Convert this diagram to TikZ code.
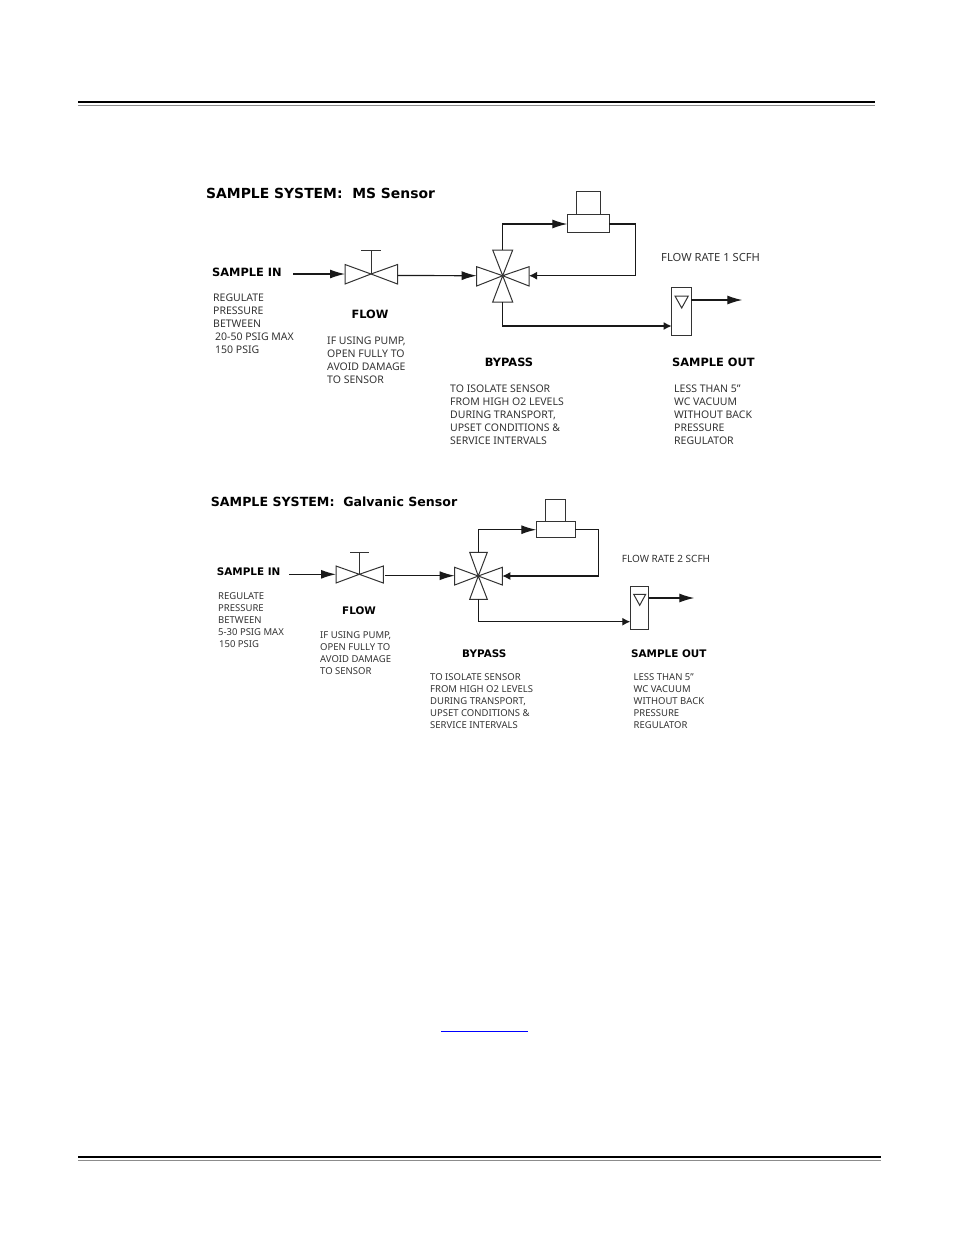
\documentclass[tikz,border=0pt]{standalone}
\usepackage{fontspec}
\setmainfont{Noto Sans}
\newfontfamily\headfont{DejaVu Sans}
\usetikzlibrary{arrows.meta}
\tikzset{
  pipe/.style={line width=1.2pt, draw=black!90},
  bigtip/.style={-{Latex[length=15pt,width=9pt]}},
  smalltip/.style={-{Latex[length=8pt,width=8pt]}},
  part/.style={draw=black!80, line width=1pt, fill=white, inner sep=0pt, outer sep=0pt},
  valve/.style={draw=black!80, line width=1pt, line join=miter},
  title/.style={font=\headfont\bfseries\fontsize{13.9}{17}\selectfont, inner sep=0pt, anchor=west},
  head/.style={font=\headfont\bfseries\fontsize{11.4}{13}\selectfont, inner sep=0pt},
  headb/.style={font=\headfont\bfseries\fontsize{10.4}{12}\selectfont, inner sep=0pt},
  note/.style={font=\fontsize{10.5}{13.1}\selectfont, text=black!80, align=left, inner sep=0pt, anchor=north west},
  noteb/.style={font=\fontsize{9.5}{11.9}\selectfont, text=black!80, align=left, inner sep=0pt, anchor=north west},
  rule/.style={line width=2.2pt, black},
  thinrule/.style={line width=1pt, black!45}
}
\begin{document}
\begin{tikzpicture}[x=1pt, y=-1pt, >=stealth]
\useasboundingbox (0,0) rectangle (954,1235);
% page rules
\coordinate (topl) at (78,102);
\coordinate (topr) at (875,102);
\coordinate (topla) at (78,105);
\coordinate (topra) at (875,105);
\coordinate (botl) at (78,1157);
\coordinate (botr) at (881,1157);
\coordinate (botla) at (78,1160);
\coordinate (botra) at (881,1160);
\draw[rule] (topl) -- (topr);
\draw[thinrule] (topla) -- (topra);
\draw[rule] (botl) -- (botr);
\draw[thinrule] (botla) -- (botra);
\coordinate (markl) at (441,1031);
\coordinate (markr) at (528,1031);
\draw[blue, line width=1pt] (markl) -- (markr);

% MS sensor
\node[title] (titlea) at (206,193) {SAMPLE SYSTEM:\ \ MS Sensor};
\node[head, anchor=west] (ina) at (212,272) {SAMPLE IN};
\node[note] (regulatea) at (213,293.5) {REGULATE\\PRESSURE\\BETWEEN\\\hspace*{2pt}20-50 PSIG MAX\\\hspace*{2pt}150 PSIG};
\node[head] (flowa) at (370,314) {FLOW};
\node[note] (pumpa) at (327,336.5) {IF USING PUMP,\\OPEN FULLY TO\\AVOID DAMAGE\\TO SENSOR};
\node[head] (bypassa) at (509,362) {BYPASS};
\node[note] (isolatea) at (450,384.5) {TO ISOLATE SENSOR\\FROM HIGH O2 LEVELS\\DURING TRANSPORT,\\UPSET CONDITIONS \&\\SERVICE INTERVALS};
\node[note, font=\fontsize{11.2}{13}\selectfont] (ratea) at (661,253) {FLOW RATE 1 SCFH};
\node[head, anchor=west] (outa) at (672,362) {SAMPLE OUT};
\node[note] (lessa) at (674,384.5) {LESS THAN 5”\\WC VACUUM\\WITHOUT BACK\\PRESSURE\\REGULATOR};

\coordinate (starta) at (293,274);
\coordinate (valvea) at (371,274);
\coordinate (valvela) at (345,274);
\coordinate (valvera) at (397.5,275.5);
\coordinate (stema) at (371,250);
\coordinate (stemla) at (361,250);
\coordinate (stemra) at (381,250);
\draw[valve] (345,264.5) -- (345,284) -- (valvea) -- cycle;
\draw[valve] (397.5,264.5) -- (397.5,284) -- (valvea) -- cycle;
\draw[valve] (valvea) -- (stema);
\draw[valve] (stemla) -- (stemra);
\draw[pipe, bigtip] (starta) -- (valvela);

\coordinate (crossa) at (502.7,275.7);
\coordinate (crossla) at (476.7,275.7);
\coordinate (crossra) at (529,275.7);
\coordinate (crossta) at (502.7,250);
\coordinate (crossba) at (502.7,302);
\draw[valve] (476.7,266.7) -- (476.7,286) -- (crossa) -- cycle;
\draw[valve] (529,266.7) -- (529,286) -- (crossa) -- cycle;
\draw[valve] (492.7,250) -- (512.7,250) -- (crossa) -- cycle;
\draw[valve] (492.7,302) -- (512.7,302) -- (crossa) -- cycle;
\draw[pipe, bigtip] (valvera) -- (crossla);

\node[part, minimum width=23.3pt, minimum height=23pt] (capa) at (588.6,203.2) {};
\node[part, minimum width=42pt, minimum height=18.3pt] (sensora) at (588.3,223.8) {};
\node[part, minimum width=19.6pt, minimum height=48pt] (metera) at (681.5,311) {};
\coordinate (sensorla) at (567.3,224);
\coordinate (sensorra) at (609.3,224);
\coordinate (cornera) at (635.7,224);
\coordinate (meterla) at (671.7,326);
\coordinate (meterra) at (691.3,300);
\coordinate (enda) at (742.3,300);
\draw[pipe, bigtip] (crossta) |- (sensorla);
\draw[pipe, smalltip] (sensorra) -- (cornera) |- (crossra);
\draw[pipe, line width=1.5pt, smalltip] (crossba) |- (meterla);
\draw[pipe, bigtip] (meterra) -- (enda);
\draw[valve] (675,296) -- (688.3,296) -- (681.7,308) -- cycle;

% Galvanic sensor
\node[title, font=\headfont\bfseries\fontsize{12.6}{17}\selectfont] (titleb) at (210.7,502) {SAMPLE SYSTEM:\ \ Galvanic Sensor};
\node[headb, anchor=west] (inb) at (216.7,572) {SAMPLE IN};
\node[noteb] (regulateb) at (218,592.5) {REGULATE\\PRESSURE\\BETWEEN\\5-30 PSIG MAX\\\hspace*{1pt}150 PSIG};
\node[headb] (flowb) at (359,611) {FLOW};
\node[noteb] (pumpb) at (320,631.5) {IF USING PUMP,\\OPEN FULLY TO\\AVOID DAMAGE\\TO SENSOR};
\node[headb] (bypassb) at (484.3,654) {BYPASS};
\node[noteb] (isolateb) at (430,673.5) {TO ISOLATE SENSOR\\FROM HIGH O2 LEVELS\\DURING TRANSPORT,\\UPSET CONDITIONS \&\\SERVICE INTERVALS};
\node[noteb, font=\fontsize{10}{11}\selectfont] (rateb) at (621.7,555.5) {FLOW RATE 2 SCFH};
\node[headb, anchor=west] (outb) at (631,654) {SAMPLE OUT};
\node[noteb] (lessb) at (633.5,673.5) {LESS THAN 5”\\WC VACUUM\\WITHOUT BACK\\PRESSURE\\REGULATOR};

\coordinate (startb) at (289.3,574.3);
\coordinate (valveb) at (359.3,574.3);
\coordinate (valvelb) at (336,574.3);
\coordinate (valverb) at (384.7,575.7);
\coordinate (stemb) at (359.3,552.3);
\coordinate (stemlb) at (350,552.3);
\coordinate (stemrb) at (368.7,552.3);
\draw[valve] (336,566) -- (336,583) -- (valveb) -- cycle;
\draw[valve] (383.3,566) -- (383.3,583) -- (valveb) -- cycle;
\draw[valve] (valveb) -- (stemb);
\draw[valve] (stemlb) -- (stemrb);
\draw[pipe, bigtip] (startb) -- (valvelb);

\coordinate (crossb) at (478.3,576);
\coordinate (crosslb) at (454.7,575.7);
\coordinate (crossrb) at (502.3,576);
\coordinate (crosstb) at (478.3,552.3);
\coordinate (crossbb) at (478.3,599.3);
\draw[valve] (454.7,567.3) -- (454.7,585) -- (crossb) -- cycle;
\draw[valve] (502.3,567.3) -- (502.3,585) -- (crossb) -- cycle;
\draw[valve] (469.7,552.3) -- (487.3,552.3) -- (crossb) -- cycle;
\draw[valve] (469.7,599.3) -- (487.3,599.3) -- (crossb) -- cycle;
\draw[pipe, bigtip] (valverb) -- (crosslb);

\node[part, minimum width=20.3pt, minimum height=22pt] (capb) at (555.8,510.3) {};
\node[part, minimum width=38.7pt, minimum height=16pt] (sensorb) at (555.7,529.3) {};
\node[part, minimum width=18.4pt, minimum height=43.3pt] (meterb) at (639.5,607.7) {};
\coordinate (sensorlb) at (536.3,529.7);
\coordinate (sensorrb) at (575,529.7);
\coordinate (cornerb) at (598.3,529.7);
\coordinate (meterlb) at (630.3,621.7);
\coordinate (meterrb) at (648.7,598);
\coordinate (endb) at (694.3,598);
\draw[pipe, bigtip] (crosstb) |- (sensorlb);
\draw[pipe, smalltip] (sensorrb) -- (cornerb) |- (crossrb);
\draw[pipe, smalltip] (crossbb) |- (meterlb);
\draw[pipe, bigtip] (meterrb) -- (endb);
\draw[valve] (633.7,594.3) -- (645.7,594.3) -- (639.7,605.3) -- cycle;
\end{tikzpicture}
\end{document}
